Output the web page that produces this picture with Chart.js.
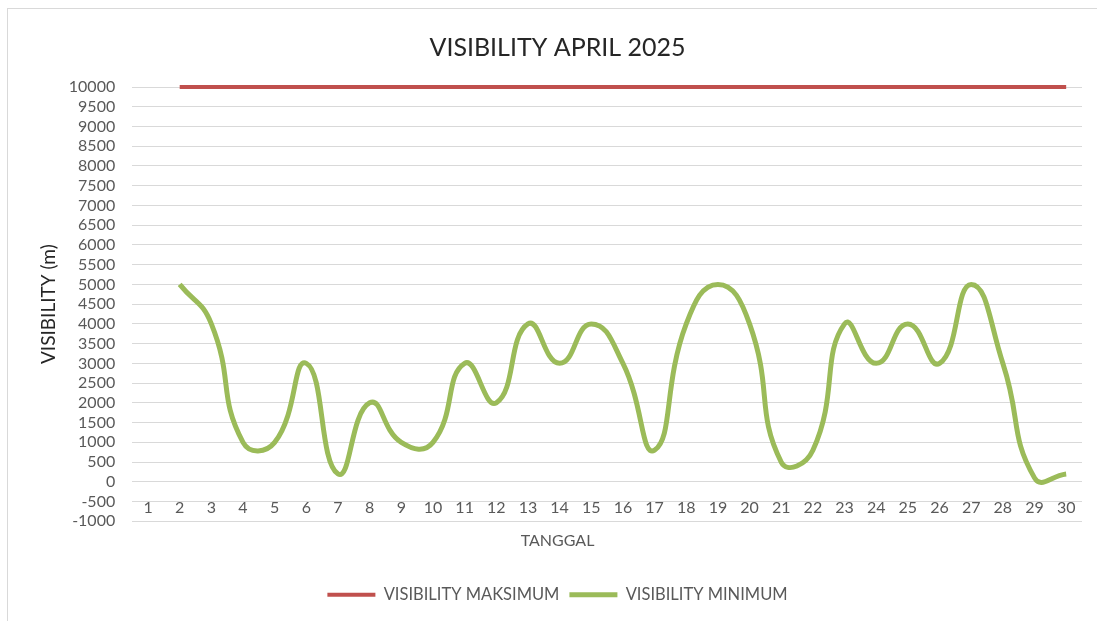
<!DOCTYPE html>
<html>
<head>
<meta charset="utf-8">
<script src="https://cdn.jsdelivr.net/npm/chart.js@4/dist/chart.umd.min.js"></script>
<style>
  html, body { margin: 0; padding: 0; background: #fff; }
  #frame {
    position: absolute; left: 7px; top: 8px;
    width: 1095px; height: 620px;
    border: 1px solid #d9d9d9; border-right: none; border-bottom: none;
  }
  #chart { display: block; }
</style>
</head>
<body>
<div id="frame"><canvas id="chart" width="1090" height="612"></canvas></div>
<script>
// ── data ──
const days = Array.from({ length: 30 }, (_, i) => String(i + 1));
const visMax = [null, 10000, 10000, 10000, 10000, 10000, 10000, 10000, 10000, 10000,
  10000, 10000, 10000, 10000, 10000, 10000, 10000, 10000, 10000, 10000,
  10000, 10000, 10000, 10000, 10000, 10000, 10000, 10000, 10000, 10000];
const visMin = [null, 5000, 4000, 1000, 1000, 3000, 200, 2000, 1000, 1000,
  3000, 2000, 4000, 3000, 4000, 3000, 800, 4000, 5000, 4000,
  500, 800, 4000, 3000, 4000, 3000, 5000, 3000, 100, 200];

const FONT = 'Lato, "Open Sans", sans-serif';
const grey = '#595959';

const ctx = document.getElementById('chart').getContext('2d');

new Chart(ctx, {
  type: 'line',
  data: {
    labels: days,
    datasets: [
      {
        label: 'VISIBILITY MAKSIMUM',
        data: visMax,
        borderColor: '#c0504d',
        backgroundColor: '#c0504d',
        borderWidth: 4,
        pointRadius: 0,
        tension: 0.5,
        clip: false // sits on the top edge, don't cut it in half
      },
      {
        label: 'VISIBILITY MINIMUM',
        data: visMin,
        borderColor: '#9bbb59',
        backgroundColor: '#9bbb59',
        borderWidth: 5,
        pointRadius: 0,
        tension: 0.5
      }
    ]
  },
  options: {
    responsive: false,
    animation: false,
    layout: { padding: { left: 25, right: 16, top: 2, bottom: 8 } },
    plugins: {
      title: {
        display: true,
        text: 'VISIBILITY APRIL 2025',
        color: '#262626',
        font: { family: FONT, size: 25, weight: 'normal' },
        padding: { top: 22, bottom: 24 }
      },
      // x axis title sits between plot and legend
      subtitle: {
        display: true,
        position: 'bottom',
        weight: 500,
        text: 'TANGGAL',
        color: grey,
        font: { family: FONT, size: 16 },
        padding: { top: 10, bottom: 26 }
      },
      legend: {
        position: 'bottom',
        labels: {
          color: grey,
          font: { family: FONT, size: 16.5 },
          usePointStyle: true,
          pointStyleWidth: 48,
          pointStyle: 'line',
          padding: 10
        }
      },
      tooltip: { enabled: false }
    },
    scales: {
      x: {
        position: { y: 0 },
        offset: true,
        grid: { display: false },
        border: { display: false },
        ticks: {
          color: grey,
          font: { family: FONT, size: 16 },
          padding: 8,
          autoSkip: false,
          maxRotation: 0
        }
      },
      y: {
        min: -1000,
        max: 10000,
        grid: { color: '#d9d9d9', lineWidth: 1, drawTicks: false },
        border: { display: false },
        ticks: {
          stepSize: 500,
          autoSkip: false,
          color: grey,
          font: { family: FONT, size: 16 },
          padding: 17,
          callback: v => String(v)
        },
        title: {
          display: true,
          text: 'VISIBILITY (m)',
          color: '#262626',
          font: { family: FONT, size: 19 },
          padding: { top: 4, bottom: -8 }
        }
      }
    }
  }
});
</script>
</body>
</html>
